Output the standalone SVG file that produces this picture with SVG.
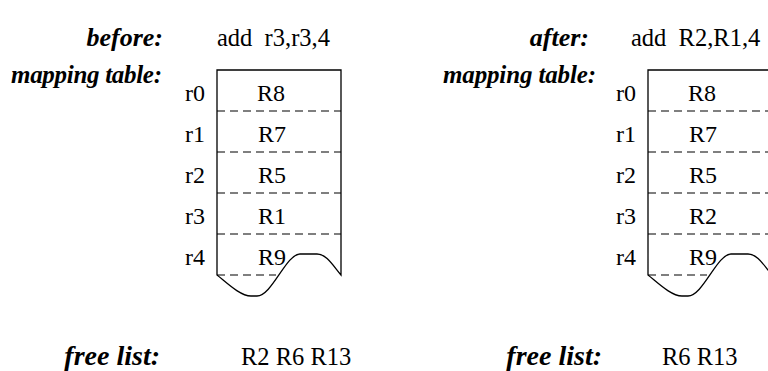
<svg xmlns="http://www.w3.org/2000/svg" width="768" height="371" viewBox="0 0 768 371">
<style>
text { font-family: "Liberation Serif", "Times New Roman", "DejaVu Serif", serif; fill: #000; }
.lbl { font-size: 26px; font-weight: bold; font-style: italic; }
.map { font-size: 25px; }
.fl { font-size: 28px; }
.txt { font-size: 24.5px; white-space: pre; }
.cell { font-size: 24px; }
.box { fill: #fff; stroke: #000; stroke-width: 1.3; }
.dash { stroke: #000; stroke-width: 1.2; stroke-dasharray: 8 5; fill: none; }
</style>
<rect width="768" height="371" fill="#fff"/>
<g id="before">
  <text class="lbl" x="163" y="46" text-anchor="end">before:</text>
  <text class="txt" x="217" y="46" xml:space="preserve">add  r3,r3,4</text>
</g>
<g id="after">
  <text class="lbl" x="589" y="46" text-anchor="end">after:</text>
  <text class="txt" x="631" y="46" xml:space="preserve">add  R2,R1,4</text>
</g>
<g id="table-before">
  <text class="lbl map" x="11" y="83" textLength="151" lengthAdjust="spacing">mapping table:</text>
  <path class="box" d="M217,70 L341,70 L341,275 C332,264 326,254 317,254 L300,254 C286,254 272,296 257,296 L251,296 C240,296 226,282 217,275 Z"/>
  <path class="dash" d="M217,111 H341 M217,152 H341 M217,193 H341 M217,234 H341 M217,275 H276"/>
  <g class="cell">
    <text x="185" y="101">r0</text><text x="257" y="101">R8</text>
    <text x="185" y="142">r1</text><text x="258" y="142">R7</text>
    <text x="185" y="183">r2</text><text x="258" y="183">R5</text>
    <text x="185" y="224">r3</text><text x="258" y="224">R1</text>
    <text x="185" y="265">r4</text><text x="258" y="265">R9</text>
  </g>
</g>
<g id="table-after">
  <text class="lbl map" x="443" y="83" textLength="153" lengthAdjust="spacing">mapping table:</text>
  <path class="box" d="M648,70 L772,70 L772,275 C763,264 757,254 748,254 L731,254 C717,254 703,296 688,296 L682,296 C671,296 657,282 648,275 Z"/>
  <path class="dash" d="M648,111 H772 M648,152 H772 M648,193 H772 M648,234 H772 M648,275 H707"/>
  <g class="cell">
    <text x="616" y="101">r0</text><text x="688" y="101">R8</text>
    <text x="616" y="142">r1</text><text x="689" y="142">R7</text>
    <text x="616" y="183">r2</text><text x="689" y="183">R5</text>
    <text x="616" y="224">r3</text><text x="689" y="224">R2</text>
    <text x="616" y="265">r4</text><text x="689" y="265">R9</text>
  </g>
</g>
<g id="freelist-before">
  <text class="lbl fl" x="160" y="365" text-anchor="end">free list:</text>
  <text class="txt" x="241" y="365">R2 R6 R13</text>
</g>
<g id="freelist-after">
  <text class="lbl fl" x="602" y="365" text-anchor="end">free list:</text>
  <text class="txt" x="662" y="365">R6 R13</text>
</g>
</svg>
